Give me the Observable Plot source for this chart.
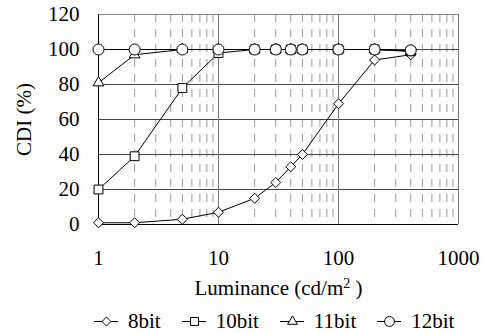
<!DOCTYPE html>
<html>
<head>
<meta charset="utf-8">
<script src="https://cdn.jsdelivr.net/npm/d3@7"></script>
<script src="https://cdn.jsdelivr.net/npm/@observablehq/plot@0.6"></script>
<style>
  html, body { margin: 0; padding: 0; background: #fff; }
  body { width: 484px; font-family: "Liberation Serif", "Times New Roman", serif; }
  #chart svg { display: block; }
  #legend { display: flex; align-items: center; box-sizing: border-box; margin-left: 94px; height: 28px; padding-top: 4px; font-size: 21px; line-height: 24px; color: #000; }
  #legend .item { display: flex; align-items: center; margin-right: 21px; }
  #legend svg { display: block; margin-right: 10px; }
  #chart svg text { font-family: "Liberation Serif", "Times New Roman", serif; }
</style>
</head>
<body>
<div id="chart"></div>
<div id="legend"></div>
<script>
// ---- data ----
const luminance = [1, 2, 5, 10, 20, 30, 40, 50, 100, 200, 400];
const cdi8bit  = [1, 1, 3, 7, 15, 24, 33, 40, 69, 94, 97];
const cdi10bit = [20, 39, 78, 98, 100, 100, 100, 100, 100, 100, 99];
const cdi11bit = [81, 97, 100, 100, 100, 100, 100, 100, 100, 100, 99];
const cdi12bit = [100, 100, 100, 100, 100, 100, 100, 100, 100, 100, 99.5];
const seriesNames = ["8bit", "10bit", "11bit", "12bit"];
const xTicks = [1, 10, 100, 1000];
const xMinor = [2, 3, 4, 5, 6, 7, 8, 9, 20, 30, 40, 50, 60, 70, 80, 90, 200, 300, 400, 500, 600, 700, 800, 900];
const yTicks = [0, 20, 40, 60, 80, 100, 120];
const yGrid = [20, 40, 60, 80, 100];
const xLabel = "Luminance (cd/m2 )";
const yLabel = "CDI (%)";

const FONT = "'Liberation Serif', 'Times New Roman', serif";
const seriesValues = [cdi8bit, cdi10bit, cdi11bit, cdi12bit];
const symbols = {"8bit": "diamond2", "10bit": "square", "11bit": "triangle", "12bit": "circle"};
const radii = {"8bit": 4.5, "10bit": 5, "11bit": 4, "12bit": 5.5};

const rows = [];
seriesNames.forEach((name, i) => {
  luminance.forEach((x, j) => rows.push({series: name, x, y: seriesValues[i][j]}));
});

const marks = [
  Plot.ruleX(xMinor, {stroke: "#9a9a9a", strokeDasharray: "8,7", strokeWidth: 1}),
  Plot.ruleY(yGrid, {stroke: "#444", strokeWidth: 1}),
  Plot.ruleY([120], {stroke: "#888", strokeWidth: 1}),
  Plot.ruleX([10, 100], {stroke: "#777", strokeWidth: 1}),
  Plot.ruleX([1000], {stroke: "#777", strokeWidth: 1}),
  Plot.ruleX([1], {stroke: "#000", strokeWidth: 1}),
  Plot.ruleY([0], {stroke: "#000", strokeWidth: 1}),
  Plot.axisX({ticks: xTicks, tickFormat: d => String(d), tickSize: 0, tickPadding: 26, label: null, fontSize: 21}),
  Plot.axisY({ticks: yTicks, tickSize: 0, tickPadding: 19, label: null, fontSize: 21}),
  Plot.text([0], {frameAnchor: "bottom", dy: 64, text: () => xLabel, fontSize: 21, lineAnchor: "middle", className: "xlabel"}),
  Plot.text([0], {frameAnchor: "left", dx: -74, rotate: -90, text: () => yLabel, fontSize: 21, textAnchor: "middle", lineAnchor: "middle"})
];

seriesNames.forEach(name => {
  const d = rows.filter(r => r.series === name);
  marks.push(Plot.line(d, {x: "x", y: "y", stroke: "#000", strokeWidth: 1}));
});
seriesNames.forEach(name => {
  const d = rows.filter(r => r.series === name);
  marks.push(Plot.dot(d, {x: "x", y: "y", symbol: () => symbols[name], r: radii[name], fill: "#fff", stroke: "#000", strokeWidth: 1}));
});

const chart = Plot.plot({
  width: 484,
  height: 305,
  marginTop: 14,
  marginBottom: 81,
  marginLeft: 98,
  marginRight: 26,
  style: {fontFamily: FONT, fontSize: "21px", color: "#000", background: "#fff"},
  x: {type: "log", domain: [1, 1000]},
  y: {domain: [0, 120]},
  symbol: {type: "identity"},
  marks
});
document.getElementById("chart").appendChild(chart);

// superscript for the "2" in cd/m2
chart.querySelectorAll("text").forEach(t => {
  if (t.textContent === xLabel) {
    const ns = "http://www.w3.org/2000/svg";
    while (t.firstChild) t.removeChild(t.firstChild);
    const a = document.createElementNS(ns, "tspan"); a.textContent = "Luminance (cd/m";
    const b = document.createElementNS(ns, "tspan"); b.textContent = "2"; b.setAttribute("dy", "-7"); b.setAttribute("font-size", "14");
    const c = document.createElementNS(ns, "tspan"); c.textContent = " )"; c.setAttribute("dy", "7");
    t.append(a, b, c);
  }
});

// legend
const legend = document.getElementById("legend");
seriesNames.forEach(name => {
  const item = document.createElement("div");
  item.className = "item";
  const sw = Plot.plot({
    width: 24, height: 16, margin: 0,
    x: {domain: [0, 1], axis: null}, y: {domain: [0, 1], axis: null},
    symbol: {type: "identity"},
    style: {background: "transparent"},
    marks: [
      Plot.ruleY([0.5], {x1: 0, x2: 1, stroke: "#000", strokeWidth: 1}),
      Plot.dot([0.5], {x: 0.5, y: 0.5, symbol: () => symbols[name], r: radii[name] * 0.9, fill: "#fff", stroke: "#000", strokeWidth: 1})
    ]
  });
  item.appendChild(sw);
  const t = document.createElement("span");
  t.textContent = name;
  item.appendChild(t);
  legend.appendChild(item);
});
</script>
</body>
</html>
